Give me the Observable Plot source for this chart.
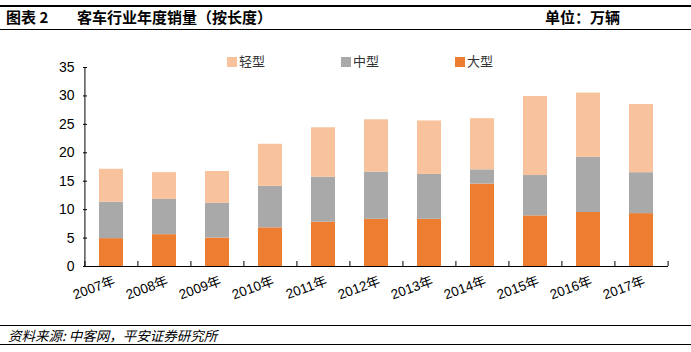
<!DOCTYPE html>
<html>
<head>
<meta charset="utf-8">
<script src="https://cdn.jsdelivr.net/npm/d3@7"></script>
<script src="https://cdn.jsdelivr.net/npm/@observablehq/plot@0.6"></script>
<style>
  body { margin: 0; background: #fff; }
  #wrap { position: relative; width: 691px; height: 352px; overflow: hidden; font-family: "Noto Sans CJK SC", sans-serif; }
  .hline { position: absolute; left: 0; width: 691px; background: #000; }
  .title { position: absolute; top: 6px; font-size: 15px; font-weight: 700; color: #000; line-height: 22px; white-space: nowrap; }
  .legend { position: absolute; top: 52px; font-size: 13px; color: #333; line-height: 18px; white-space: nowrap; z-index: 5; }
  .legend span.sw { display: inline-block; width: 10px; height: 10px; margin-right: 2px; vertical-align: -1px; }
  .foot { position: absolute; top: 326px; left: 8px; font-size: 13.5px; font-style: italic; color: #000; line-height: 18px; white-space: nowrap; }
  #chart { position: absolute; left: 0; top: 46px; }
</style>
</head>
<body>
<div id="wrap">
  <div class="hline" style="top:5px;height:1.5px"></div>
  <div class="title" style="left:6px">图表 2</div>
  <div class="title" style="left:77px">客车行业年度销量（按长度）</div>
  <div class="title" style="left:545px">单位：万辆</div>
  <div class="hline" style="top:29px;height:1px"></div>
  <div id="chart"></div>
  <div id="legend"></div>
  <div class="hline" style="top:325px;height:1px"></div>
  <div class="foot">资料来源: 中客网，平安证券研究所</div>
  <div class="hline" style="top:344px;height:1px"></div>
</div>
<script>
const years = ["2007年","2008年","2009年","2010年","2011年","2012年","2013年","2014年","2015年","2016年","2017年"];
const large = [4.9, 5.6, 5.0, 6.8, 7.8, 8.3, 8.3, 14.5, 8.9, 9.5, 9.3];
const medium = [6.4, 6.2, 6.1, 7.3, 7.9, 8.3, 7.9, 2.5, 7.1, 9.7, 7.2];
const light = [5.8, 4.7, 5.6, 7.4, 8.7, 9.2, 9.4, 9.0, 13.9, 11.3, 12.0];
const seriesNames = ["大型", "中型", "轻型"];
const seriesColors = ["#ED7D31", "#A9A9A9", "#F8C29C"];
const yTicks = [0, 5, 10, 15, 20, 25, 30, 35];

const seriesValues = [large, medium, light];
const data = [];
seriesNames.forEach((s, si) => years.forEach((y, i) => data.push({year: y, type: s, value: seriesValues[si][i]})));

const W = 691, H = 274, mL = 83, mR = 23;
const step = (W - mL - mR) / years.length;

const chart = Plot.plot({
  width: W, height: H,
  marginLeft: mL, marginRight: mR, marginTop: 21, marginBottom: 8 + 46,
  style: {fontFamily: "'Liberation Sans', Arial, 'Noto Sans CJK SC', sans-serif", fontSize: "13px", color: "#000", background: "#fff"},
  x: {domain: years, paddingInner: 0.55, paddingOuter: 0.275},
  y: {domain: [0, 35]},
  color: {domain: seriesNames, range: seriesColors},
  marks: [
    Plot.barY(data, Plot.stackY({x: "year", y: "value", fill: "type", order: seriesNames})),
    Plot.ruleY([0], {stroke: "#000", strokeWidth: 1}),
    Plot.ruleX([years[0]], {dx: -step / 2, stroke: "#000", strokeWidth: 1}),
    Plot.axisY({ticks: yTicks, tickSize: 0, tickPadding: 9, label: null, fontSize: 14}),
    Plot.axisY({ticks: yTicks, tickSize: 4, dx: 4, text: null, label: null}),
    Plot.axisX({tickSize: 5, dx: -step / 2, dy: -5, text: null, label: null}),
    Plot.axisX({ticks: [years[years.length - 1]], tickSize: 5, dx: step / 2, dy: -5, text: null, label: null}),
    Plot.axisX({tickSize: 0, tickRotate: -20, tickPadding: 14, dx: 3, label: null, fontSize: 13.5})
  ]
});
document.getElementById("chart").appendChild(chart);

const legendItems = [{name: "轻型", color: seriesColors[2], left: 227}, {name: "中型", color: seriesColors[1], left: 341}, {name: "大型", color: seriesColors[0], left: 455}];
const lg = document.getElementById("legend");
legendItems.forEach(it => {
  const d = document.createElement("div");
  d.className = "legend";
  d.style.left = it.left + "px";
  d.innerHTML = `<span class="sw" style="background:${it.color}"></span>${it.name}`;
  lg.appendChild(d);
});
</script>
</body>
</html>
